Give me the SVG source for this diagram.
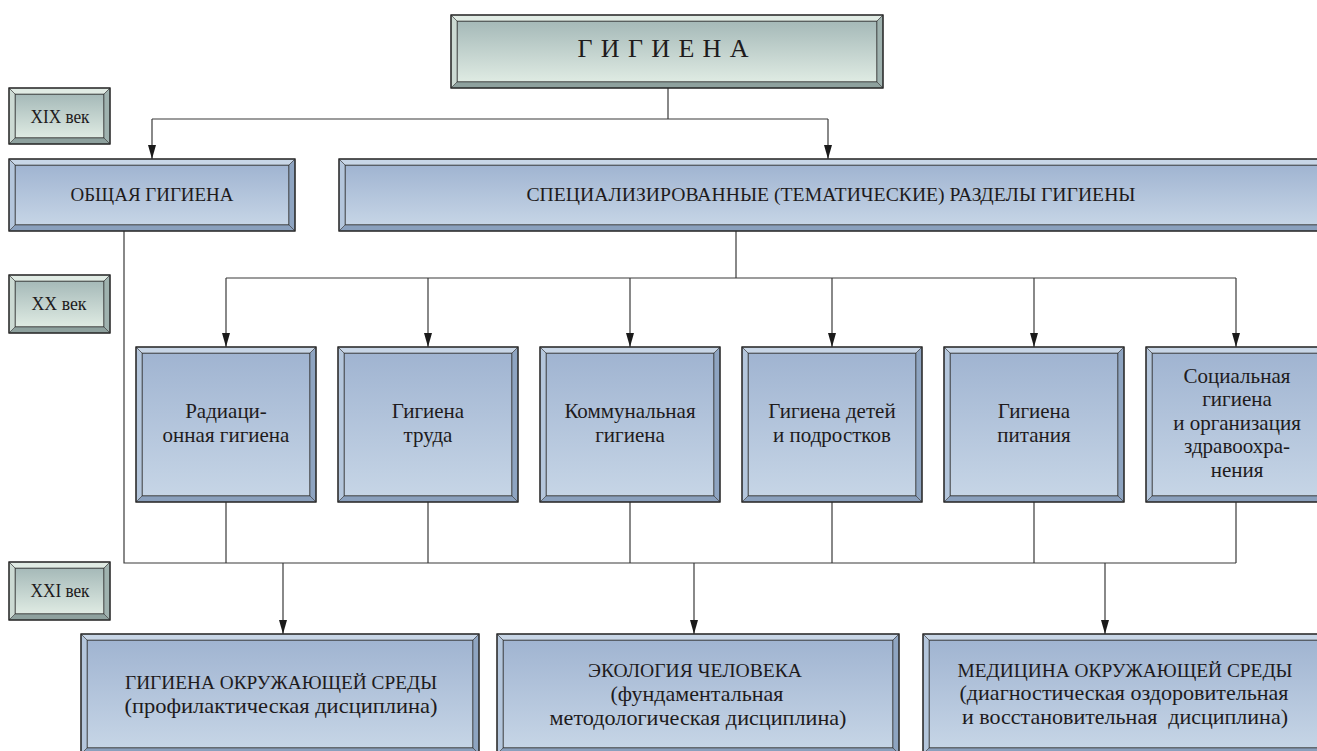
<svg xmlns="http://www.w3.org/2000/svg" width="1317" height="751" viewBox="0 0 1317 751">
<defs>
<linearGradient id="gBlue" x1="0" y1="0" x2="0" y2="1"><stop offset="0" stop-color="#a0b4d1"/><stop offset="1" stop-color="#c6d5e6"/></linearGradient>
<linearGradient id="gGreen" x1="0" y1="0" x2="0" y2="1"><stop offset="0" stop-color="#a5b9b8"/><stop offset="1" stop-color="#dfebe3"/></linearGradient>
<marker id="arr" markerUnits="userSpaceOnUse" markerWidth="14" markerHeight="8" refX="14" refY="4" orient="auto"><path d="M0,0 L14,4 L0,8 z" fill="#1a1a1a"/></marker>
<style>
.o{fill:none;stroke:#2a2a2a;stroke-width:1.4}
.p{stroke:#3a3a3a;stroke-width:0.6}
.fb{fill:url(#gBlue);stroke:#2a2a2a;stroke-width:1}
.fg{fill:url(#gGreen);stroke:#2a2a2a;stroke-width:1}
.bT{fill:#c8d6e7}.bL{fill:#b4c6dc}.bR{fill:#8ea4c1}.bB{fill:#8aa0bd}
.gT{fill:#e0ebe4}.gL{fill:#ccdad3}.gR{fill:#9fb2af}.gB{fill:#8ea19e}
.c{fill:none;stroke:#3a3a3a;stroke-width:1.2}
.a{fill:none;stroke:#3a3a3a;stroke-width:1.2;marker-end:url(#arr)}
text{font-family:"Liberation Serif","Times New Roman",serif;fill:#1e1b1c;text-anchor:middle}
.cap{font-size:19px}
.low{font-size:21px}
.age{font-size:19px}
</style>
</defs>

<g id="connectors">
<path class="c" d="M668,88 V119 M152,119 H828"/>
<path class="a" d="M152,119 V159"/>
<path class="a" d="M828,119 V159"/>
<path class="c" d="M736,231 V278 M226,278 H1236"/>
<path class="a" d="M226,278 V347"/>
<path class="a" d="M428,278 V347"/>
<path class="a" d="M630,278 V347"/>
<path class="a" d="M832,278 V347"/>
<path class="a" d="M1034,278 V347"/>
<path class="a" d="M1236,278 V347"/>
<path class="c" d="M124,231 V563 H1236 M226,502 V563 M428,502 V563 M630,502 V563 M832,502 V563 M1034,502 V563 M1236,502 V563"/>
<path class="a" d="M283,563 V634"/>
<path class="a" d="M694,563 V634"/>
<path class="a" d="M1105,563 V634"/>
</g>

<g id="gigiena">
<rect class="fg" x="457" y="21" width="420" height="61"/>
<polygon class="gT p" points="451,15 883,15 877,21 457,21"/>
<polygon class="gB p" points="451,88 883,88 877,82 457,82"/>
<polygon class="gL p" points="451,15 457,21 457,82 451,88"/>
<polygon class="gR p" points="883,15 877,21 877,82 883,88"/>
<rect class="o" x="451" y="15" width="432" height="73"/>
<text x="663" y="57" style="font-size:26px" textLength="171" lengthAdjust="spacing">Г И Г И Е Н А</text>
</g>

<g id="xix">
<rect class="fg" x="15" y="94" width="89" height="44"/>
<polygon class="gT p" points="9,88 110,88 104,94 15,94"/>
<polygon class="gB p" points="9,144 110,144 104,138 15,138"/>
<polygon class="gL p" points="9,88 15,94 15,138 9,144"/>
<polygon class="gR p" points="110,88 104,94 104,138 110,144"/>
<rect class="o" x="9" y="88" width="101" height="56"/>
<text class="age" x="60" y="123" textLength="59" lengthAdjust="spacingAndGlyphs">XIX век</text>
</g>

<g id="xx">
<rect class="fg" x="15" y="281" width="89" height="46"/>
<polygon class="gT p" points="9,275 110,275 104,281 15,281"/>
<polygon class="gB p" points="9,333 110,333 104,327 15,327"/>
<polygon class="gL p" points="9,275 15,281 15,327 9,333"/>
<polygon class="gR p" points="110,275 104,281 104,327 110,333"/>
<rect class="o" x="9" y="275" width="101" height="58"/>
<text class="age" x="59" y="310" textLength="55" lengthAdjust="spacingAndGlyphs">XX век</text>
</g>

<g id="xxi">
<rect class="fg" x="15" y="568" width="89" height="46"/>
<polygon class="gT p" points="9,562 110,562 104,568 15,568"/>
<polygon class="gB p" points="9,620 110,620 104,614 15,614"/>
<polygon class="gL p" points="9,562 15,568 15,614 9,620"/>
<polygon class="gR p" points="110,562 104,568 104,614 110,620"/>
<rect class="o" x="9" y="562" width="101" height="58"/>
<text class="age" x="60" y="597" textLength="59" lengthAdjust="spacingAndGlyphs">XXI век</text>
</g>

<g id="obshaya">
<rect class="fb" x="15" y="165" width="274" height="60"/>
<polygon class="bT p" points="9,159 295,159 289,165 15,165"/>
<polygon class="bB p" points="9,231 295,231 289,225 15,225"/>
<polygon class="bL p" points="9,159 15,165 15,225 9,231"/>
<polygon class="bR p" points="295,159 289,165 289,225 295,231"/>
<rect class="o" x="9" y="159" width="286" height="72"/>
<text class="cap" x="152" y="201" textLength="163" lengthAdjust="spacingAndGlyphs">ОБЩАЯ ГИГИЕНА</text>
</g>

<g id="spec">
<rect class="fb" x="345" y="165" width="979" height="60"/>
<polygon class="bT p" points="339,159 1330,159 1324,165 345,165"/>
<polygon class="bB p" points="339,231 1330,231 1324,225 345,225"/>
<polygon class="bL p" points="339,159 345,165 345,225 339,231"/>
<polygon class="bR p" points="1330,159 1324,165 1324,225 1330,231"/>
<rect class="o" x="339" y="159" width="991" height="72"/>
<text class="cap" x="831" y="201" textLength="609" lengthAdjust="spacingAndGlyphs">СПЕЦИАЛИЗИРОВАННЫЕ (ТЕМАТИЧЕСКИЕ) РАЗДЕЛЫ ГИГИЕНЫ</text>
</g>

<g id="radiation">
<rect class="fb" x="142" y="353" width="168" height="143"/>
<polygon class="bT p" points="136,347 316,347 310,353 142,353"/>
<polygon class="bB p" points="136,502 316,502 310,496 142,496"/>
<polygon class="bL p" points="136,347 142,353 142,496 136,502"/>
<polygon class="bR p" points="316,347 310,353 310,496 316,502"/>
<rect class="o" x="136" y="347" width="180" height="155"/>
<text class="low" x="226" y="418">Радиаци-</text>
<text class="low" x="226" y="442">онная гигиена</text>
</g>

<g id="trud">
<rect class="fb" x="344" y="353" width="168" height="143"/>
<polygon class="bT p" points="338,347 518,347 512,353 344,353"/>
<polygon class="bB p" points="338,502 518,502 512,496 344,496"/>
<polygon class="bL p" points="338,347 344,353 344,496 338,502"/>
<polygon class="bR p" points="518,347 512,353 512,496 518,502"/>
<rect class="o" x="338" y="347" width="180" height="155"/>
<text class="low" x="428" y="418">Гигиена</text>
<text class="low" x="428" y="442">труда</text>
</g>

<g id="kommun">
<rect class="fb" x="546" y="353" width="168" height="143"/>
<polygon class="bT p" points="540,347 720,347 714,353 546,353"/>
<polygon class="bB p" points="540,502 720,502 714,496 546,496"/>
<polygon class="bL p" points="540,347 546,353 546,496 540,502"/>
<polygon class="bR p" points="720,347 714,353 714,496 720,502"/>
<rect class="o" x="540" y="347" width="180" height="155"/>
<text class="low" x="630" y="418">Коммунальная</text>
<text class="low" x="630" y="442">гигиена</text>
</g>

<g id="deti">
<rect class="fb" x="748" y="353" width="168" height="143"/>
<polygon class="bT p" points="742,347 922,347 916,353 748,353"/>
<polygon class="bB p" points="742,502 922,502 916,496 748,496"/>
<polygon class="bL p" points="742,347 748,353 748,496 742,502"/>
<polygon class="bR p" points="922,347 916,353 916,496 922,502"/>
<rect class="o" x="742" y="347" width="180" height="155"/>
<text class="low" x="832" y="418">Гигиена детей</text>
<text class="low" x="832" y="442">и подростков</text>
</g>

<g id="pitanie">
<rect class="fb" x="950" y="353" width="168" height="143"/>
<polygon class="bT p" points="944,347 1124,347 1118,353 950,353"/>
<polygon class="bB p" points="944,502 1124,502 1118,496 950,496"/>
<polygon class="bL p" points="944,347 950,353 950,496 944,502"/>
<polygon class="bR p" points="1124,347 1118,353 1118,496 1124,502"/>
<rect class="o" x="944" y="347" width="180" height="155"/>
<text class="low" x="1034" y="418">Гигиена</text>
<text class="low" x="1034" y="442">питания</text>
</g>

<g id="social">
<rect class="fb" x="1152" y="353" width="168" height="143"/>
<polygon class="bT p" points="1146,347 1326,347 1320,353 1152,353"/>
<polygon class="bB p" points="1146,502 1326,502 1320,496 1152,496"/>
<polygon class="bL p" points="1146,347 1152,353 1152,496 1146,502"/>
<polygon class="bR p" points="1326,347 1320,353 1320,496 1326,502"/>
<rect class="o" x="1146" y="347" width="180" height="155"/>
<text class="low" x="1237" y="383">Социальная</text>
<text class="low" x="1237" y="406">гигиена</text>
<text class="low" x="1237" y="430">и организация</text>
<text class="low" x="1237" y="453">здравоохра-</text>
<text class="low" x="1237" y="477">нения</text>
</g>

<g id="env-hygiene">
<rect class="fb" x="87" y="640" width="386" height="108"/>
<polygon class="bT p" points="81,634 479,634 473,640 87,640"/>
<polygon class="bB p" points="81,754 479,754 473,748 87,748"/>
<polygon class="bL p" points="81,634 87,640 87,748 81,754"/>
<polygon class="bR p" points="479,634 473,640 473,748 479,754"/>
<rect class="o" x="81" y="634" width="398" height="120"/>
<text class="cap" x="281" y="689" textLength="312" lengthAdjust="spacingAndGlyphs">ГИГИЕНА ОКРУЖАЮЩЕЙ СРЕДЫ</text>
<text class="low" x="281" y="713" textLength="313" lengthAdjust="spacingAndGlyphs">(профилактическая дисциплина)</text>
</g>

<g id="ecology">
<rect class="fb" x="503" y="640" width="390" height="108"/>
<polygon class="bT p" points="497,634 899,634 893,640 503,640"/>
<polygon class="bB p" points="497,754 899,754 893,748 503,748"/>
<polygon class="bL p" points="497,634 503,640 503,748 497,754"/>
<polygon class="bR p" points="899,634 893,640 893,748 899,754"/>
<rect class="o" x="497" y="634" width="402" height="120"/>
<text class="cap" x="695" y="677" textLength="214" lengthAdjust="spacingAndGlyphs">ЭКОЛОГИЯ ЧЕЛОВЕКА</text>
<text class="low" x="697" y="701" textLength="173" lengthAdjust="spacingAndGlyphs">(фундаментальная</text>
<text class="low" x="698" y="725" textLength="297" lengthAdjust="spacingAndGlyphs">методологическая дисциплина)</text>
</g>

<g id="env-medicine">
<rect class="fb" x="929" y="640" width="395" height="108"/>
<polygon class="bT p" points="923,634 1330,634 1324,640 929,640"/>
<polygon class="bB p" points="923,754 1330,754 1324,748 929,748"/>
<polygon class="bL p" points="923,634 929,640 929,748 923,754"/>
<polygon class="bR p" points="1330,634 1324,640 1324,748 1330,754"/>
<rect class="o" x="923" y="634" width="407" height="120"/>
<text class="cap" x="1125" y="677" textLength="335" lengthAdjust="spacingAndGlyphs">МЕДИЦИНА ОКРУЖАЮЩЕЙ СРЕДЫ</text>
<text class="low" x="1124" y="700" textLength="329" lengthAdjust="spacingAndGlyphs">(диагностическая оздоровительная</text>
<text class="low" x="1125" y="724" textLength="326" lengthAdjust="spacingAndGlyphs" xml:space="preserve">и восстановительная  дисциплина)</text>
</g>
</svg>
